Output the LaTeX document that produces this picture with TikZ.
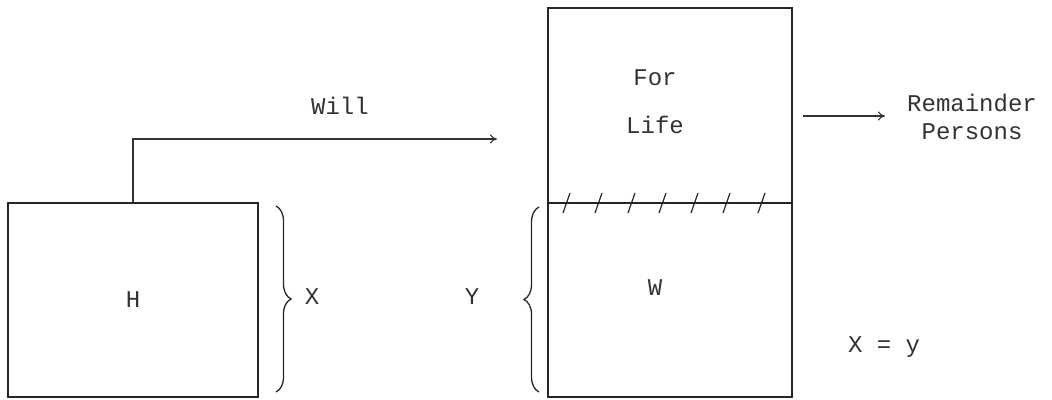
\documentclass[tikz,border=0pt]{standalone}
\usepackage{fontspec}
\setmonofont{Liberation Mono}
\usetikzlibrary{decorations.pathreplacing,arrows.meta}
\begin{document}
\begin{tikzpicture}[x=1pt,y=-1pt,
  every node/.style={font=\ttfamily\fontsize{24}{30}\selectfont, text=black!80},
  box/.style={draw=black!85, line width=1.3pt, inner sep=0pt},
  conn/.style={draw=black!80, line width=1.1pt, -{To[length=7pt,width=9pt]}},
  brc/.style={draw=black!85, line width=1.3pt, decorate, decoration={brace, amplitude=15pt}},
  hatch/.style={draw=black!85, line width=1.2pt}]
\useasboundingbox (0,0) rectangle (1052,399);
% boxes
\node[box, minimum width=250pt, minimum height=194pt] (H) at (133,300) {H};
\node[box, minimum width=244pt, minimum height=195pt] (top) at (670,105.5) {};
\node[box, minimum width=244pt, minimum height=194pt] (W) at (670,300) {};
\node (Wl) at (655,288) {W};
\node (for) at (655,78) {For};
\node (life) at (655,125) {Life};
% will arrow
\coordinate (willend) at (497,139);
\draw[conn] (H.north) |- (willend);
\node (will) at (340,106) {Will};
% remainder arrow
\node[align=center, inner sep=0pt] (rem) at (972,117) {Remainder\\[-2pt]Persons};
\coordinate (r0) at (803,116);
\coordinate (r1) at (885,116);
\draw[conn] (r0) -- (r1);
% braces
\coordinate (xb1) at (276,206);
\coordinate (xb2) at (276,392);
\draw[brc] (xb1) -- (xb2);
\node (X) at (312,297) {X};
\coordinate (yb1) at (539,392);
\coordinate (yb2) at (539,207);
\draw[brc] (yb1) -- (yb2);
\node (Y) at (472,297) {Y};
% hatches
\foreach \hx in {567,599,632,663,695,727,762}
  \draw[hatch] (\hx-4,213) -- (\hx+3,193);
% equation
\node (eq) at (884,347) {X = y};
\end{tikzpicture}
\end{document}
